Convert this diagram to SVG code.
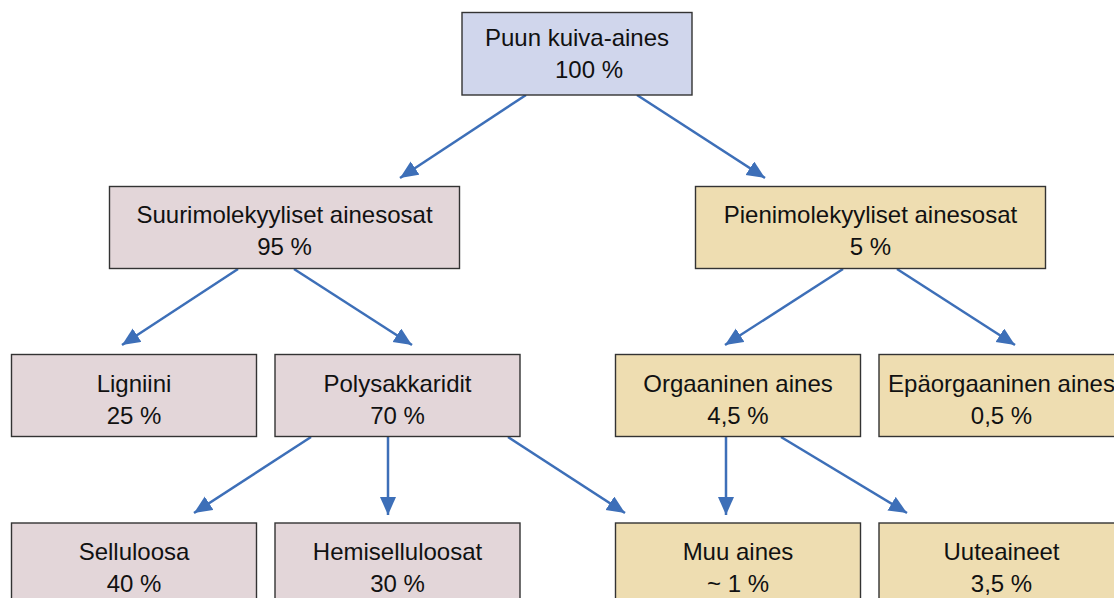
<svg xmlns="http://www.w3.org/2000/svg" width="1114" height="598" viewBox="0 0 1114 598">
<defs>
<style>
.box{stroke:#333;stroke-width:1.4}
.top{fill:#D0D6EC}
.pink{fill:#E3D6D9}
.tan{fill:#EEDDB1}
text{font-family:"Liberation Sans",Arial,sans-serif;font-size:24px;fill:#111;text-anchor:middle}
.con line{stroke:#3D6FB8;stroke-width:2.5;marker-end:url(#ah)}
</style>
<marker id="ah" markerWidth="20" markerHeight="18" refX="18" refY="8" orient="auto" markerUnits="userSpaceOnUse">
<path d="M0,0 L18,8 L0,16 z" fill="#3D6FB8"/>
</marker>
</defs>
<rect width="1114" height="598" fill="#fff"/>
<g class="con">
<line x1="526" y1="95" x2="400" y2="178"/>
<line x1="637" y1="95" x2="765" y2="178"/>
<line x1="238" y1="269" x2="122" y2="345"/>
<line x1="294" y1="269" x2="412" y2="345"/>
<line x1="843" y1="269" x2="725" y2="345"/>
<line x1="897" y1="269" x2="1015" y2="345"/>
<line x1="311" y1="437" x2="194" y2="513"/>
<line x1="388" y1="437" x2="388" y2="515"/>
<line x1="508" y1="437" x2="625" y2="513"/>
<line x1="726" y1="437" x2="726" y2="515"/>
<line x1="781" y1="437" x2="907" y2="513"/>
</g>
<g id="puun"><rect class="box top" x="462" y="12.5" width="230" height="82.5"/><text x="577" y="46">Puun kuiva-aines</text><text x="589" y="78">100 %</text></g>
<g id="suuri"><rect class="box pink" x="109.5" y="186.5" width="350" height="82"/><text x="284.5" y="223">Suurimolekyyliset ainesosat</text><text x="284.5" y="255">95 %</text></g>
<g id="pieni"><rect class="box tan" x="695.5" y="186.5" width="350" height="82"/><text x="870.5" y="223">Pienimolekyyliset ainesosat</text><text x="870.5" y="255">5 %</text></g>
<g id="ligniini"><rect class="box pink" x="11.5" y="354.5" width="245" height="82"/><text x="134" y="391.5">Ligniini</text><text x="134" y="423.5">25 %</text></g>
<g id="poly"><rect class="box pink" x="275" y="354.5" width="245" height="82"/><text x="397.5" y="391.5">Polysakkaridit</text><text x="397.5" y="423.5">70 %</text></g>
<g id="org"><rect class="box tan" x="615.5" y="354.5" width="245" height="82"/><text x="738" y="391.5">Orgaaninen aines</text><text x="738" y="423.5">4,5 %</text></g>
<g id="epaorg"><rect class="box tan" x="879" y="354.5" width="245" height="82"/><text x="1001.5" y="391.5">Epäorgaaninen aines</text><text x="1001.5" y="423.5">0,5 %</text></g>
<g id="sellu"><rect class="box pink" x="11.5" y="523" width="245" height="82"/><text x="134" y="560">Selluloosa</text><text x="134" y="592">40 %</text></g>
<g id="hemi"><rect class="box pink" x="275" y="523" width="245" height="82"/><text x="397.5" y="560">Hemiselluloosat</text><text x="397.5" y="592">30 %</text></g>
<g id="muu"><rect class="box tan" x="615.5" y="523" width="245" height="82"/><text x="738" y="560">Muu aines</text><text x="738" y="592">~ 1 %</text></g>
<g id="uute"><rect class="box tan" x="879" y="523" width="245" height="82"/><text x="1001.5" y="560">Uuteaineet</text><text x="1001.5" y="592">3,5 %</text></g>
</svg>
